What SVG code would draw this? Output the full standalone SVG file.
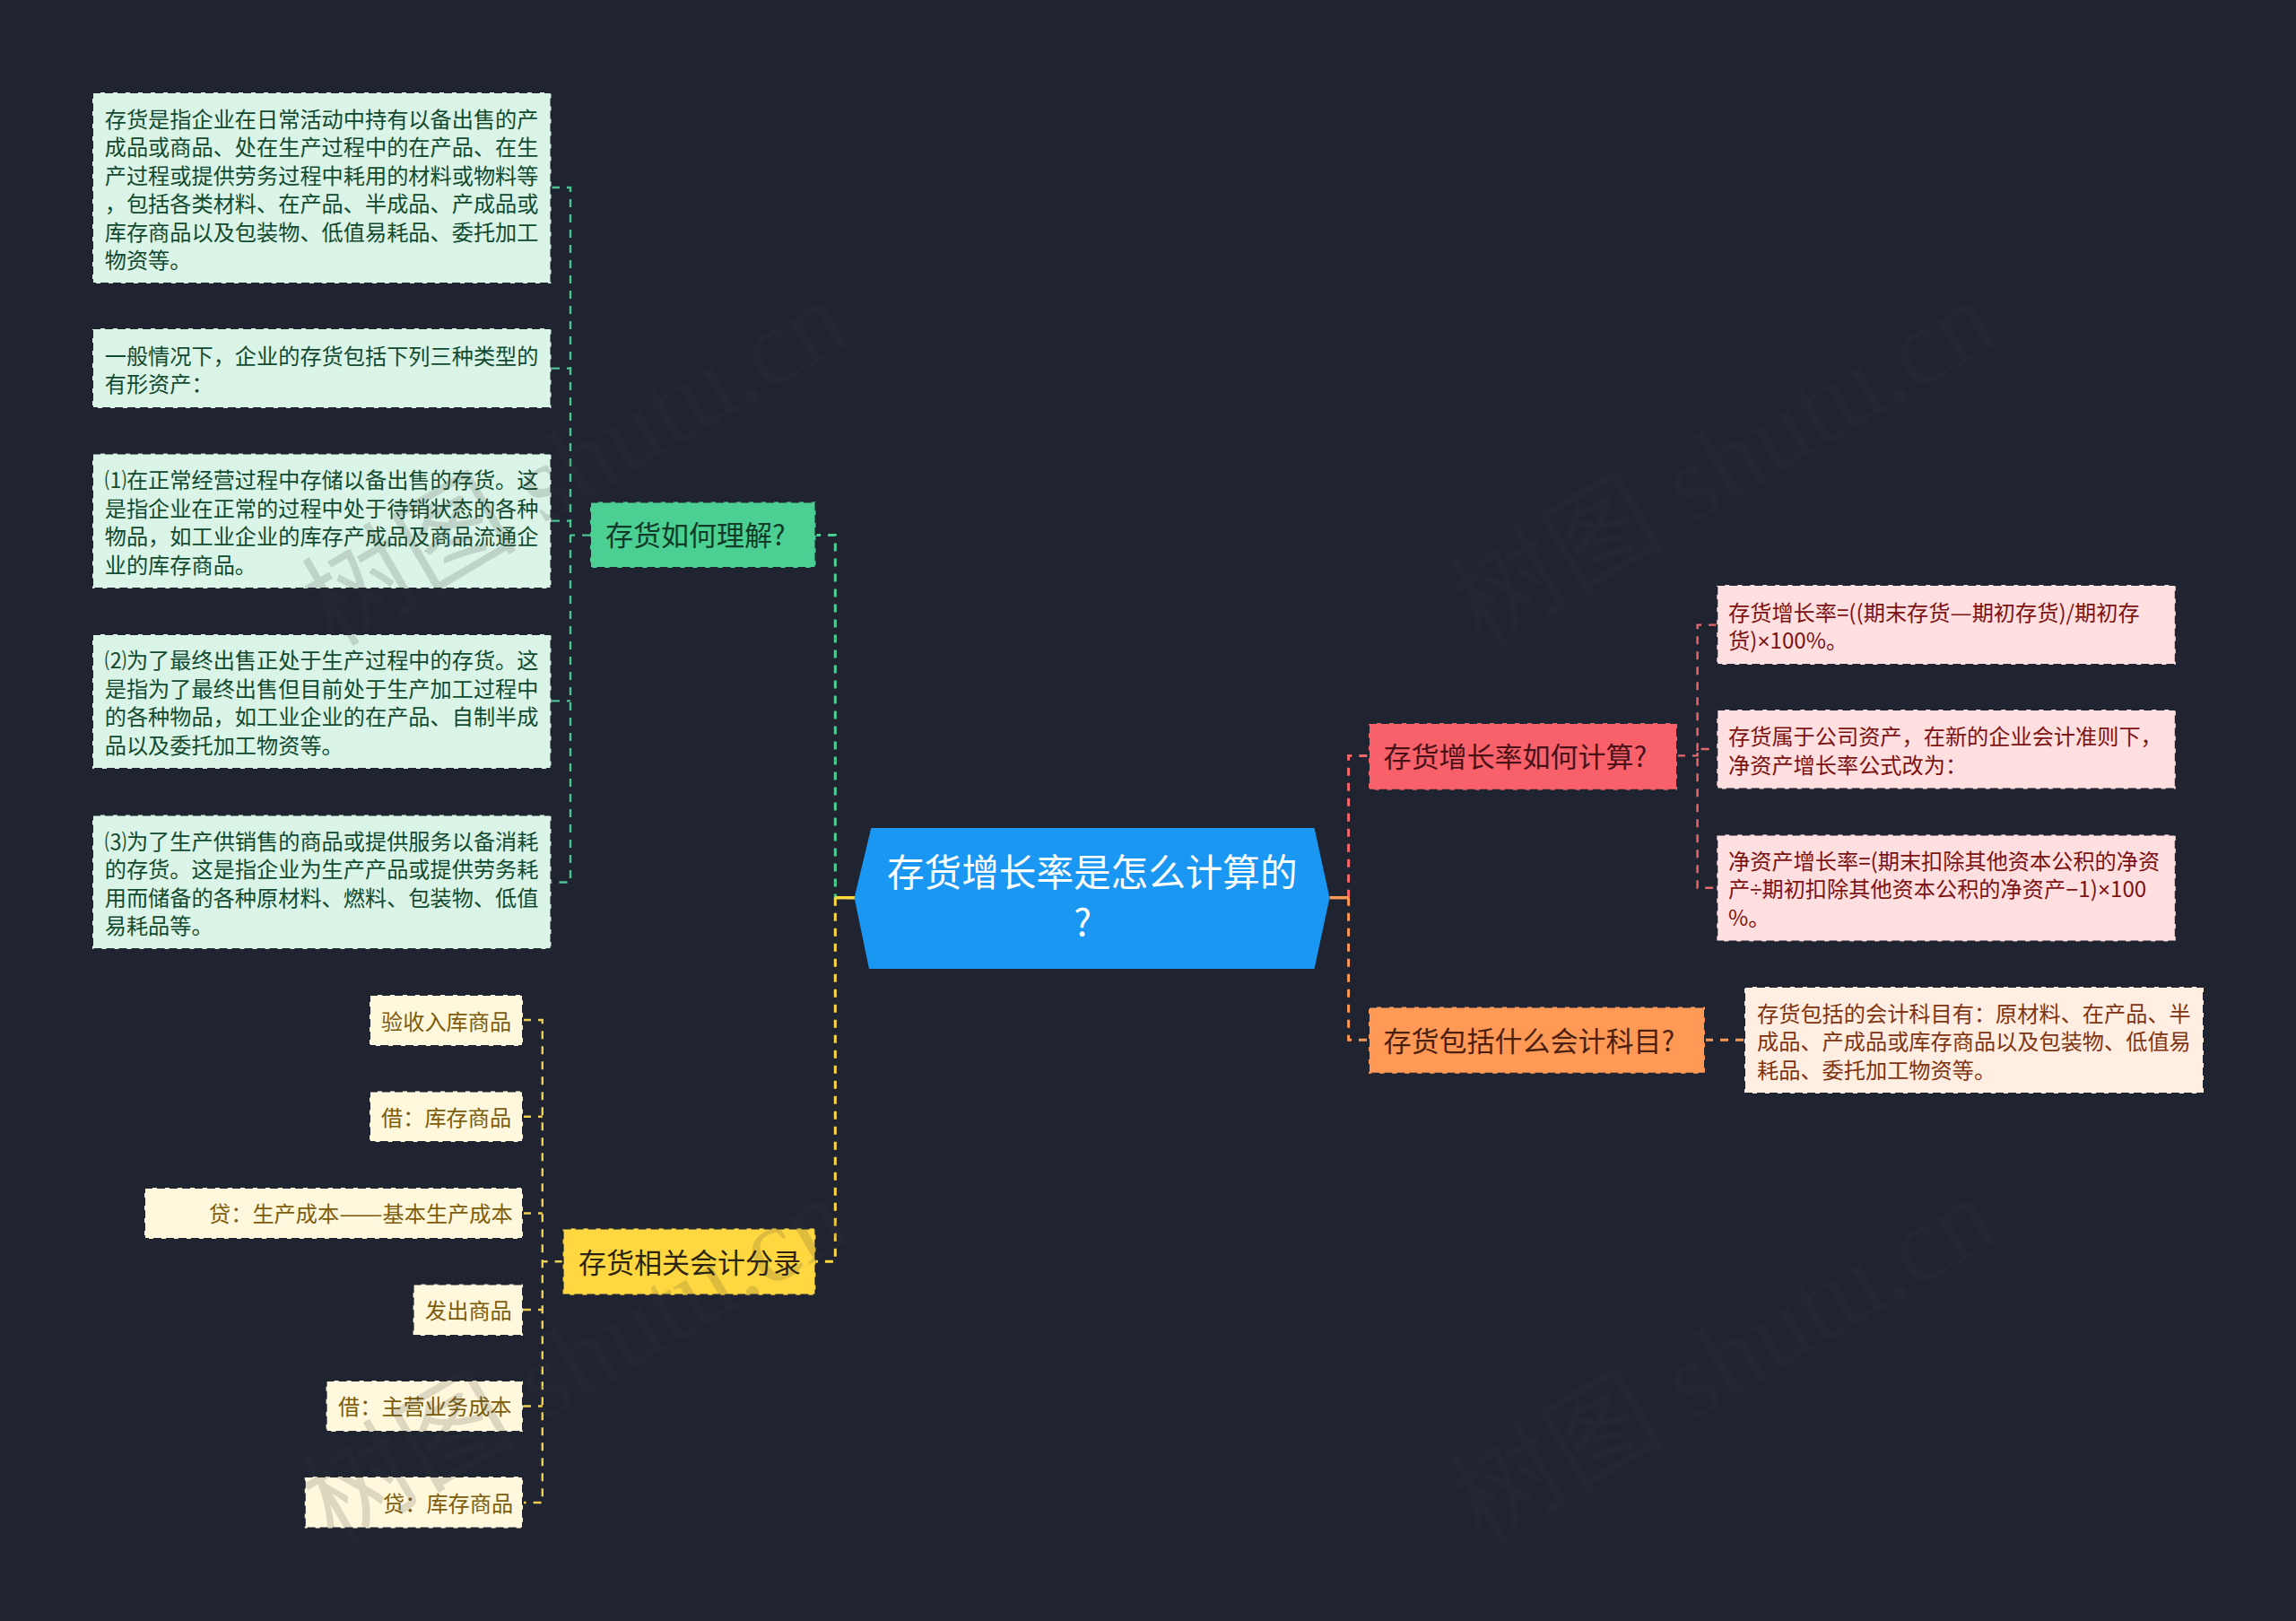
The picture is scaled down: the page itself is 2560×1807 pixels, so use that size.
<svg xmlns="http://www.w3.org/2000/svg" width="2560" height="1807" viewBox="0 0 2560 1807">
<style>
text{font-family:"Noto Sans CJK SC","Noto Sans",sans-serif}
.leaf{font-size:24.2px}
.br{font-size:31px}
.root{font-size:41.6px;fill:#fff}
.box{stroke:#1f2430;stroke-width:2;stroke-dasharray:9 5}
.gl{fill:#daf5e7}.gt{fill:#124a30}
.yl{fill:#fff8dd}.yt{fill:#7d5c0a}
.rl{fill:#ffdfe0}.rt{fill:#7c1212}
.ol{fill:#ffeee1}.ot{fill:#7f3412}
.c{fill:none;stroke-dasharray:9 8}
.m{stroke-width:3}.k{stroke-width:2.4}
.s{fill:none;stroke-width:3.5}
.n{font-family:"Liberation Sans",sans-serif}
.wm{font-family:"Liberation Serif","Noto Sans CJK SC",serif;font-size:120px;fill:#3a3a3a;opacity:.17}
</style>
<rect width="2560" height="1807" fill="#1f2430"/>
<g id="connectors">
<path class="c m" stroke="#4bcf92" d="M953 1000.7H931.3V596.6H909.5"/>
<path class="c m" stroke="#ffd740" d="M931.3 1000.7V1406.3H909.5"/>
<path class="c m" stroke="#f8686b" d="M1503.6 1000.7V842.4H1526"/>
<path class="c m" stroke="#ff9955" d="M1503.6 1000.7V1159.3H1526"/>
<path class="s" stroke="#ffd740" d="M931.3 1000.7H953"/>
<path class="s" stroke="#ff9955" d="M1482.5 1000.7H1503.6"/>
<path class="c k" stroke="#4cc492" d="M658 596.6H636M615 209H636V983.5H615M615 410.6H636M615 580.6H636M615 781.4H636"/>
<path class="c k" stroke="#f0d050" d="M627.6 1406.3H604.8M583 1137H604.8V1675H583M583 1244.7H604.8M583 1352.5H604.8M583 1460H604.8M583 1567.5H604.8"/>
<path class="c k" stroke="#e8686c" d="M1870 842.4H1892.6V835H1914M1914 696.6H1892.6V989.7H1914"/>
<path class="c m" stroke="#ff9955" d="M1901 1159.3H1945"/>
</g>
<g id="root"><polygon points="952.6,1000.7 971.3,923 1465.5,923 1482.5,1000.7 1465.5,1080 969,1080" fill="#1997f2"/>
<text class="root" x="989" y="987.5">存货增长率是怎么计算的</text><text class="root" x="1207" y="1043" text-anchor="middle">?</text></g>
<g id="branch-green"><rect class="box" x="658" y="559.5" width="251.5" height="73.5" fill="#4bcf92"/><text class="br" x="675" y="608" fill="#123a28">存货如何理解?</text></g>
<g id="branch-yellow"><rect class="box" x="627.6" y="1369.4" width="281.8" height="74.2" fill="#ffd740"/><text class="br" x="645" y="1418.5" fill="#2a2410">存货相关会计分录</text></g>
<g id="branch-red"><rect class="box" x="1526" y="806" width="344" height="74.7" fill="#f8606a"/><text class="br" x="1542.5" y="855" fill="#4a1216">存货增长率如何计算?</text></g>
<g id="branch-orange"><rect class="box" x="1526" y="1122.5" width="375" height="74.3" fill="#ff9955"/><text class="br" x="1542.5" y="1172" fill="#4a2010">存货包括什么会计科目?</text></g>
<g id="g1"><rect class="box gl" x="103" y="103" width="511.5" height="213"/><g class="leaf gt"><text x="116.7" y="141.5">存货是指企业在日常活动中持有以备出售的产</text><text x="116.7" y="173">成品或商品、处在生产过程中的在产品、在生</text><text x="116.7" y="204.5">产过程或提供劳务过程中耗用的材料或物料等</text><text x="116.7" y="236">&#xFF0C;包括各类材料、在产品、半成品、产成品或</text><text x="116.7" y="267.5">库存商品以及包装物、低值易耗品、委托加工</text><text x="116.7" y="299">物资等。</text></g></g>
<g id="g2"><rect class="box gl" x="103" y="366" width="511.5" height="89"/><g class="leaf gt"><text x="116.7" y="405.5">一般情况下&#xFF0C;企业的存货包括下列三种类型的</text><text x="116.7" y="437">有形资产&#xFF1A;</text></g></g>
<g id="g3"><rect class="box gl" x="103" y="505.6" width="511.5" height="150.4"/><g class="leaf gt"><text x="116.7" y="544">⑴在正常经营过程中存储以备出售的存货。这</text><text x="116.7" y="575.5">是指企业在正常的过程中处于待销状态的各种</text><text x="116.7" y="607">物品&#xFF0C;如工业企业的库存产成品及商品流通企</text><text x="116.7" y="638.5">业的库存商品。</text></g></g>
<g id="g4"><rect class="box gl" x="103" y="707" width="511.5" height="150"/><g class="leaf gt"><text x="116.7" y="745">⑵为了最终出售正处于生产过程中的存货。这</text><text x="116.7" y="776.5">是指为了最终出售但目前处于生产加工过程中</text><text x="116.7" y="808">的各种物品&#xFF0C;如工业企业的在产品、自制半成</text><text x="116.7" y="839.5">品以及委托加工物资等。</text></g></g>
<g id="g5"><rect class="box gl" x="103" y="908.5" width="511.5" height="149.5"/><g class="leaf gt"><text x="116.7" y="946.5">⑶为了生产供销售的商品或提供服务以备消耗</text><text x="116.7" y="978">的存货。这是指企业为生产产品或提供劳务耗</text><text x="116.7" y="1009.5">用而储备的各种原材料、燃料、包装物、低值</text><text x="116.7" y="1041">易耗品等。</text></g></g>
<g id="y1"><rect class="box yl" x="412" y="1109" width="171" height="57"/><text class="leaf yt" x="425" y="1147.5">验收入库商品</text></g>
<g id="y2"><rect class="box yl" x="412" y="1216.4" width="171" height="56.6"/><text class="leaf yt" x="425" y="1254.5">借&#xFF1A;库存商品</text></g>
<g id="y3"><rect class="box yl" x="161" y="1324" width="422" height="57"/><text class="leaf yt" x="233" y="1362">贷&#xFF1A;生产成本<tspan textLength="48.4" lengthAdjust="spacingAndGlyphs">——</tspan>基本生产成本</text></g>
<g id="y4"><rect class="box yl" x="460.6" y="1431.6" width="122.4" height="57.4"/><text class="leaf yt" x="474" y="1470">发出商品</text></g>
<g id="y5"><rect class="box yl" x="363.6" y="1539" width="219.4" height="57"/><text class="leaf yt" x="377" y="1577">借&#xFF1A;主营业务成本</text></g>
<g id="y6"><rect class="box yl" x="339.8" y="1646" width="243.2" height="57.5"/><text class="leaf yt" x="427" y="1684.5">贷&#xFF1A;库存商品</text></g>
<g id="r1"><rect class="box rl" x="1914.3" y="652" width="511.5" height="89"/><g class="leaf rt"><text x="1927" y="691.5">存货增长率=((期末存货<tspan textLength="24.2" lengthAdjust="spacingAndGlyphs">—</tspan>期初存货)/期初存</text><text x="1927" y="723">货)<tspan class="n">×</tspan>100%。</text></g></g>
<g id="r2"><rect class="box rl" x="1914.3" y="791" width="511.5" height="88.5"/><g class="leaf rt"><text x="1927" y="830">存货属于公司资产&#xFF0C;在新的企业会计准则下&#xFF0C;</text><text x="1927" y="861.5">净资产增长率公式改为&#xFF1A;</text></g></g>
<g id="r3"><rect class="box rl" x="1914.3" y="930.4" width="511.5" height="119"/><g class="leaf rt"><text x="1927" y="968.5">净资产增长率=(期末扣除其他资本公积的净资</text><text x="1927" y="1000">产<tspan class="n">÷</tspan>期初扣除其他资本公积的净资产<tspan class="n">−</tspan>1)<tspan class="n">×</tspan>100</text><text x="1927" y="1031.5">%。</text></g></g>
<g id="o1"><rect class="box ol" x="1945" y="1100" width="512" height="119"/><g class="leaf ot"><text x="1959" y="1138.5">存货包括的会计科目有&#xFF1A;原材料、在产品、半</text><text x="1959" y="1170">成品、产成品或库存商品以及包装物、低值易</text><text x="1959" y="1201.5">耗品、委托加工物资等。</text></g></g>
<g id="watermarks">
<text class="wm" transform="translate(372 722) rotate(-30.5)">树图 shutu.cn</text>
<text class="wm" transform="translate(1652 722) rotate(-30.5)">树图 shutu.cn</text>
<text class="wm" transform="translate(372 1722) rotate(-30.5)">树图 shutu.cn</text>
<text class="wm" transform="translate(1652 1722) rotate(-30.5)">树图 shutu.cn</text>
</g>
</svg>
